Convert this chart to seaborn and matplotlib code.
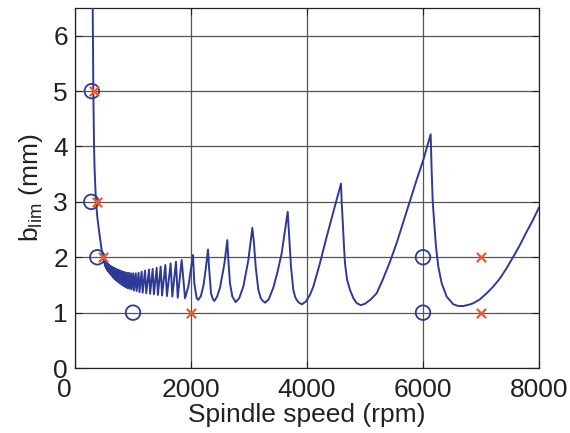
import matplotlib
matplotlib.use("Agg")
import matplotlib.pyplot as plt
import matplotlib.transforms as mtransforms
import seaborn as sns
import pandas as pd

# ---- data ----
lead_rpm = [298, 305, 310, 316, 322, 328, 336, 345, 362, 385, 420, 450, 477]
lead_b = [7.0, 6.5, 5.8, 5.0, 4.5, 4.0, 3.65, 3.39, 3.0, 2.72, 2.43, 2.20, 2.02]

dense_rpm = [500, 504, 511, 515, 522, 526, 534, 538, 546, 550, 559, 563, 572, 576,
             586, 590, 601, 606, 616, 621, 633, 638, 650, 655, 668, 674, 687, 693,
             707, 714, 729, 736, 752, 759, 776, 784, 802, 810, 830, 839, 860, 870,
             892, 903, 927, 938, 964, 976, 1004, 1017, 1048, 1062, 1096, 1111,
             1149, 1166, 1207, 1228, 1276, 1295, 1339, 1360, 1408, 1429, 1477, 1501,
             1557, 1585, 1649, 1677, 1741, 1771, 1839, 1897, 1954]
dense_b = [1.96, 1.90, 1.94, 1.86, 1.93, 1.83, 1.92, 1.80, 1.90, 1.78, 1.89, 1.76, 1.88, 1.74,
           1.86, 1.72, 1.85, 1.70, 1.84, 1.68, 1.83, 1.66, 1.82, 1.64, 1.81, 1.62, 1.80, 1.60,
           1.79, 1.58, 1.78, 1.56, 1.77, 1.54, 1.76, 1.52, 1.75, 1.50, 1.74, 1.48, 1.73, 1.46,
           1.72, 1.44, 1.72, 1.43, 1.71, 1.42, 1.71, 1.40, 1.71, 1.39, 1.72, 1.37,
           1.74, 1.36, 1.76, 1.35, 1.78, 1.34, 1.79, 1.33, 1.81, 1.32, 1.83, 1.31,
           1.86, 1.30, 1.89, 1.29, 1.92, 1.27, 1.95, 1.26, 1.47]

lobe_rpm = [2034, 2057, 2098, 2126, 2170, 2213, 2253,
            2293, 2310, 2345, 2375, 2402, 2450, 2500, 2575,
            2626, 2644, 2672, 2713, 2770, 2830, 2902, 2989,
            3057, 3086, 3115, 3161, 3200, 3230, 3276, 3340, 3419, 3490, 3563,
            3667, 3690, 3724, 3764, 3800, 3850, 3910, 3980, 4050, 4109, 4220, 4339, 4450, 4511,
            4586, 4600, 4615, 4635, 4655, 4690, 4741, 4800, 4860, 4925, 5000, 5100, 5201, 5300,
            5431, 5550, 5661, 5776, 5891, 6006,
            6132, 6149, 6167, 6190, 6224, 6264, 6322, 6408, 6523, 6610, 6695, 6780, 6868,
            6980, 7098, 7210, 7328, 7440, 7557, 7670, 7787, 7900, 8000]
lobe_b = [2.04, 1.53, 1.26, 1.23, 1.30, 1.48, 1.78,
          2.14, 1.83, 1.35, 1.25, 1.21, 1.29, 1.45, 1.88,
          2.31, 1.95, 1.53, 1.29, 1.19, 1.26, 1.47, 1.95,
          2.53, 2.25, 1.83, 1.41, 1.27, 1.22, 1.18, 1.24, 1.45, 1.73, 2.07,
          2.82, 2.43, 1.83, 1.41, 1.27, 1.19, 1.15, 1.20, 1.32, 1.47, 1.88, 2.37, 2.80, 3.03,
          3.33, 2.95, 2.67, 2.25, 1.89, 1.60, 1.41, 1.26, 1.17, 1.135, 1.16, 1.24, 1.35, 1.58,
          1.92, 2.27, 2.64, 3.02, 3.40, 3.76,
          4.22, 3.57, 3.03, 2.67, 2.19, 1.83, 1.53, 1.29, 1.15, 1.12, 1.12, 1.14, 1.17,
          1.24, 1.35, 1.47, 1.62, 1.80, 2.01, 2.22, 2.46, 2.68, 2.90]

circle_rpm = [290, 280, 385, 1000, 6000, 6000]
circle_b = [5, 3, 2, 1, 2, 1]
cross_rpm = [330, 375, 480, 2000, 7000, 7000]
cross_b = [5, 3, 2, 1, 2, 1]

x_ticks = [0, 2000, 4000, 6000, 8000]
y_ticks = [0, 1, 2, 3, 4, 5, 6]

# ---- styling ----
sns.set_style("white")
plt.rcParams["font.family"] = ["Liberation Sans", "DejaVu Sans"]
plt.rcParams["mathtext.fontset"] = "custom"
plt.rcParams["mathtext.rm"] = "Liberation Sans"

line_color = "#2E3A97"
cross_color = "#F15A29"

fig = plt.figure(figsize=(5.7, 4.33), dpi=100)
ax = fig.add_axes([0.1316, 0.150, 0.8140, 0.8315])

curve = pd.DataFrame({
    "rpm": lead_rpm + dense_rpm + lobe_rpm,
    "blim": lead_b + dense_b + lobe_b,
})
sns.lineplot(data=curve, x="rpm", y="blim", sort=False, estimator=None,
             color=line_color, linewidth=1.4, ax=ax, zorder=3)

sns.scatterplot(x=circle_rpm, y=circle_b, marker="o", s=110,
                facecolors="none", edgecolors=line_color, linewidth=1.3,
                ax=ax, zorder=4)
sns.scatterplot(x=cross_rpm, y=cross_b, marker="x", s=45,
                color=cross_color, linewidth=1.6, ax=ax, zorder=5)

ax.set_xlim(0, 8000)
ax.set_ylim(0, 6.5)
ax.set_xticks(x_ticks)
ax.set_yticks(y_ticks)
ax.set_xticklabels([str(t) for t in x_ticks])
ax.set_yticklabels([str(t) for t in y_ticks])

ax.grid(True, color="#555555", linewidth=0.9, linestyle="-")
ax.set_axisbelow(True)
for s in ax.spines.values():
    s.set_visible(True)
    s.set_color("#222222")
    s.set_linewidth(0.9)

ax.tick_params(axis="both", which="both", direction="in", length=5, width=0.8,
               labelsize=19, colors="#222222", top=True, right=True,
               bottom=True, left=True, pad=5)
ax.tick_params(axis="x", pad=7)

# MATLAB-style offset of the x "0" label
lbl0 = ax.get_xticklabels()[0]
lbl0.set_transform(lbl0.get_transform() +
                   mtransforms.ScaledTranslation(-11 / 100, 0, fig.dpi_scale_trans))

ax.set_xlabel("Spindle speed (rpm)", fontsize=19, color="#222222", labelpad=1)
ax.set_ylabel(r"b$_{\mathregular{lim}}$ (mm)", fontsize=19, color="#222222", labelpad=6)

fig.savefig("out.png", dpi=100)
